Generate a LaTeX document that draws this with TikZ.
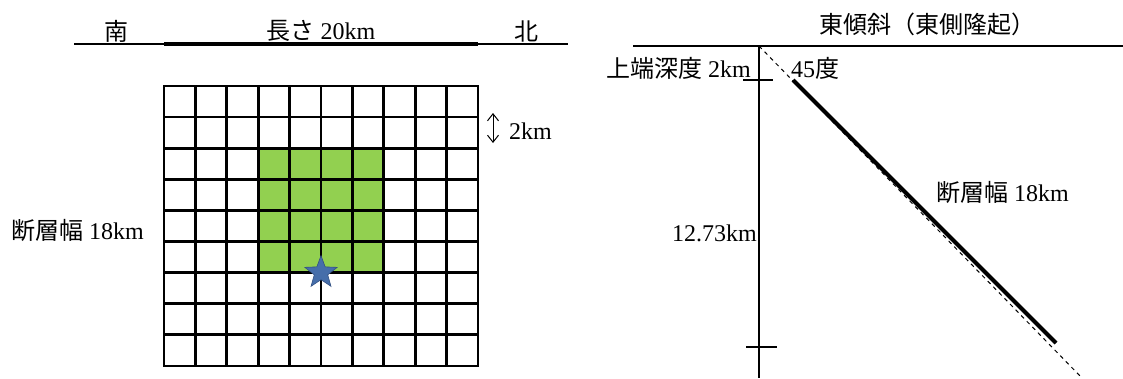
\documentclass[tikz,border=0pt]{standalone}
\usepackage{fontspec}
\setmainfont{Liberation Serif}
\newfontfamily\jp{Noto Sans CJK JP}
\usepackage{tikz}
\usetikzlibrary{positioning,calc,shapes.geometric,arrows.meta}
\definecolor{slipgreen}{RGB}{146,208,80}
\definecolor{starblue}{RGB}{70,110,170}
\definecolor{starline}{RGB}{50,80,130}

\begin{document}
\begin{tikzpicture}[
x=1pt, y=-1pt,
txt/.style={
  font=\fontsize{24}{28}\selectfont,
  inner sep=0pt
  },
ground/.style={line width=2pt},
fault/.style={line width=4pt},
cell/.style={line width=2.7pt, line cap=rect},
tick/.style={line width=2pt},
>=latex
]
\useasboundingbox (0,0) rectangle (1123,378);

% plan view
\coordinate (s) at (74,44);
\coordinate (n) at (568,44);
\coordinate (fs) at (164,44);
\coordinate (fn) at (478,44);
\draw[ground] (s) -- (n);
\draw[fault] (fs) -- (fn);
\node[txt] (south) at (116,31) {\jp 南};
\node[txt] (length) at (321,31) {{\jp 長さ} 20km};
\node[txt] (north) at (526,31) {\jp 北};

\begin{scope}[shift={(164,86)}, x=31.4pt, y=-31.1pt]
\fill[slipgreen] (3,2) rectangle (7,6);
\foreach \i in {0,...,10}
  \draw[cell] (\i,0) -- (\i,9);
\foreach \j in {0,...,9}
  \draw[cell] (0,\j) -- (10,\j);
\node[star, star points=5, star point ratio=2.4, minimum size=34pt,
  inner sep=0pt, fill=starblue, draw=starline, line width=0.6pt] (epi) at (5,6) {};
\end{scope}

\coordinate (up) at (493,113);
\coordinate (dn) at (493,143);
\draw[{Straight Barb[length=7pt,width=11pt]}-{Straight Barb[length=7pt,width=11pt]}, line width=1pt] (up) -- (dn);
\node[txt, anchor=west] (cellsize) at (509,131) {2km};
\node[txt, anchor=west] (widthL) at (11,230) {{\jp 断層幅} 18km};

% cross section
\node[txt] (title) at (927,24) {\jp 東傾斜（東側隆起）};
\coordinate (w) at (633,46);
\coordinate (e) at (1123,46);
\coordinate (top) at (759,46);
\coordinate (bot) at (759,378);
\draw[ground] (w) -- (e);
\draw[ground] (top) -- (bot);
\draw[tick] (743,80) -- (773,80);
\draw[tick] (746,347) -- (777,347);
\coordinate (deep) at (1082,378);
\draw[line width=1pt, dash pattern=on 4pt off 4pt] (top) -- (deep);
\coordinate (ftop) at (793,80);
\coordinate (fbot) at (1056,343);
\draw[fault] (ftop) -- (fbot);

\node[txt, anchor=east] (depth) at (751,68) {{\jp 上端深度} 2km};
\node[txt, anchor=west] (dip) at (791,68) {45{\jp 度}};
\node[txt, anchor=west] (widthR) at (936,192) {{\jp 断層幅} 18km};
\node[txt, anchor=east] (vert) at (757,233) {12.73km};
\end{tikzpicture}
\end{document}
